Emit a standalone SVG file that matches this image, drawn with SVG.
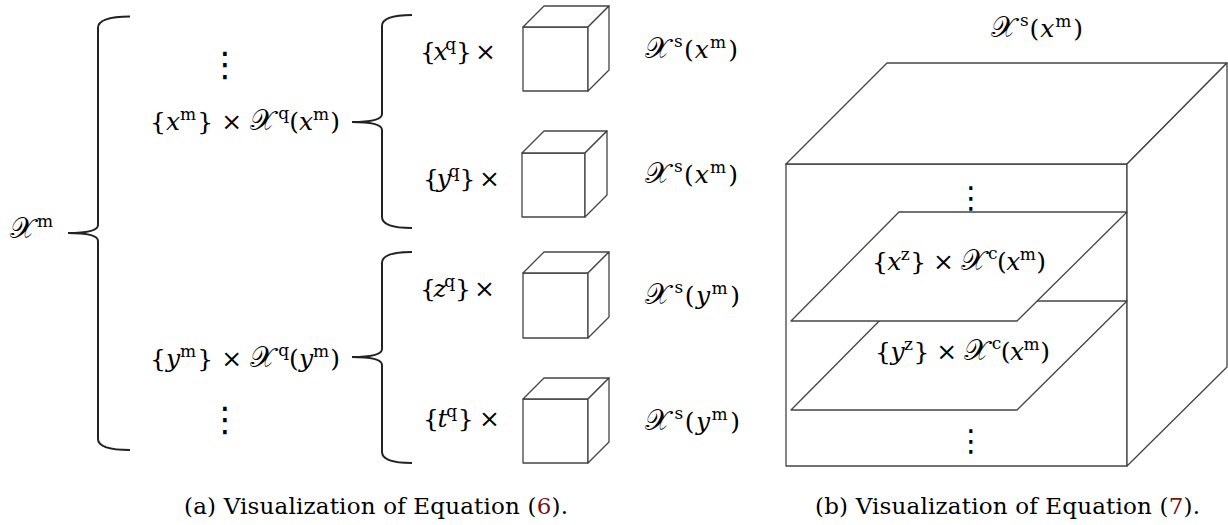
<svg xmlns="http://www.w3.org/2000/svg" width="1228" height="525" viewBox="0 0 1228 525">
<style>
.m{font-family:"DejaVu Serif","Liberation Serif",serif;font-size:25px;fill:#000}
.i{font-style:italic}
.s{font-size:17px;font-style:normal}
.cal{font-family:"DejaVu Serif","DejaVu Sans","Noto Sans",serif;font-style:normal;font-size:29px}
.dots{font-family:"DejaVu Sans",sans-serif;font-size:34px;fill:#000;text-anchor:middle}
.cap{font-family:"DejaVu Serif","Liberation Serif",serif;font-size:23px;fill:#000}
.ref{fill:#7a1414}
.brace{fill:none;stroke:#222;stroke-width:2}
.edge{fill:#fff;stroke:#444;stroke-width:1.3;stroke-linejoin:round}
</style>
<rect width="1228" height="525" fill="#fff"/>
<g id="connectors">
<path class="brace" d="M130,16.5 Q98,16.5 98,28 L98,225 Q98,233 68,233 Q98,233 98,241 L98,439 Q98,450 130,450"/>
<path class="brace" d="M412,15 Q382,15 382,26 L382,114 Q382,122 352,122 Q382,122 382,130 L382,217 Q382,228 412,228"/>
<path class="brace" d="M412,252 Q382,252 382,263 L382,349 Q382,357 352,357 Q382,357 382,365 L382,452 Q382,463 412,463"/>
</g>
<g id="root">
<text class="m" x="10" y="238" textLength="43"><tspan class="cal">𝒳</tspan><tspan class="s" dy="-11" dx="4">m</tspan></text>
</g>
<g id="group-xm">
<text class="dots" x="225" y="76">⋮</text>
<text class="m" x="150" y="130" textLength="190">{<tspan class="i">x</tspan><tspan class="s" dy="-10">m</tspan><tspan dy="10" dx="1">} × </tspan><tspan class="cal">𝒳</tspan><tspan class="s" dy="-11" dx="3">q</tspan><tspan dy="11">(</tspan><tspan class="i">x</tspan><tspan class="s" dy="-10">m</tspan><tspan dy="10" dx="1">)</tspan></text>
</g>
<g id="group-ym">
<text class="m" x="150" y="367" textLength="190">{<tspan class="i">y</tspan><tspan class="s" dy="-10">m</tspan><tspan dy="10" dx="1">} × </tspan><tspan class="cal">𝒳</tspan><tspan class="s" dy="-11" dx="3">q</tspan><tspan dy="11">(</tspan><tspan class="i">y</tspan><tspan class="s" dy="-10">m</tspan><tspan dy="10" dx="1">)</tspan></text>
<text class="dots" x="225" y="431">⋮</text>
</g>
<g id="cube-xq">
<text class="m" x="420" y="60" textLength="76">{<tspan class="i">x</tspan><tspan class="s" dy="-10">q</tspan><tspan dy="10" dx="2">} ×</tspan></text>
<rect class="edge" x="523" y="27" width="65" height="64"/>
<path class="edge" d="M523,27 L544,6 L609,6 L588,27 Z"/>
<path class="edge" d="M588,27 L609,6 L609,70 L588,91 Z"/>
<text class="m" x="645" y="58" textLength="93"><tspan class="cal">𝒳</tspan><tspan class="s" dy="-11" dx="3">s</tspan><tspan dy="11">(</tspan><tspan class="i">x</tspan><tspan class="s" dy="-10">m</tspan><tspan dy="10" dx="1">)</tspan></text>
</g>
<g id="cube-yq">
<text class="m" x="423" y="187" textLength="77">{<tspan class="i">y</tspan><tspan class="s" dy="-10">q</tspan><tspan dy="10" dx="2">} ×</tspan></text>
<rect class="edge" x="522" y="153" width="63" height="64"/>
<path class="edge" d="M522,153 L544,131 L607,131 L585,153 Z"/>
<path class="edge" d="M585,153 L607,131 L607,195 L585,217 Z"/>
<text class="m" x="645" y="183" textLength="93"><tspan class="cal">𝒳</tspan><tspan class="s" dy="-11" dx="3">s</tspan><tspan dy="11">(</tspan><tspan class="i">x</tspan><tspan class="s" dy="-10">m</tspan><tspan dy="10" dx="1">)</tspan></text>
</g>
<g id="cube-zq">
<text class="m" x="420" y="297" textLength="75">{<tspan class="i">z</tspan><tspan class="s" dy="-10">q</tspan><tspan dy="10" dx="2">} ×</tspan></text>
<rect class="edge" x="523" y="273" width="65" height="65"/>
<path class="edge" d="M523,273 L544,252 L609,252 L588,273 Z"/>
<path class="edge" d="M588,273 L609,252 L609,317 L588,338 Z"/>
<text class="m" x="645" y="304" textLength="95"><tspan class="cal">𝒳</tspan><tspan class="s" dy="-11" dx="3">s</tspan><tspan dy="11">(</tspan><tspan class="i">y</tspan><tspan class="s" dy="-10">m</tspan><tspan dy="10" dx="1">)</tspan></text>
</g>
<g id="cube-tq">
<text class="m" x="423" y="427" textLength="77">{<tspan class="i">t</tspan><tspan class="s" dy="-10">q</tspan><tspan dy="10" dx="2">} ×</tspan></text>
<rect class="edge" x="523" y="399" width="65" height="64"/>
<path class="edge" d="M523,399 L544,378 L609,378 L588,399 Z"/>
<path class="edge" d="M588,399 L609,378 L609,442 L588,463 Z"/>
<text class="m" x="645" y="430" textLength="95"><tspan class="cal">𝒳</tspan><tspan class="s" dy="-11" dx="3">s</tspan><tspan dy="11">(</tspan><tspan class="i">y</tspan><tspan class="s" dy="-10">m</tspan><tspan dy="10" dx="1">)</tspan></text>
</g>
<g id="big-cube">
<text class="m" x="991" y="37" textLength="92"><tspan class="cal">𝒳</tspan><tspan class="s" dy="-11" dx="3">s</tspan><tspan dy="11">(</tspan><tspan class="i">x</tspan><tspan class="s" dy="-10">m</tspan><tspan dy="10" dx="1">)</tspan></text>
<rect class="edge" x="786" y="164" width="341" height="302"/>
<path class="edge" d="M786,164 L887,63 L1227,63 L1127,164 Z"/>
<path class="edge" d="M1127,164 L1227,63 L1227,367 L1127,466 Z"/>
<text class="dots" x="971" y="208" style="font-size:30px">⋮</text>
<text class="dots" x="971" y="451" style="font-size:30px">⋮</text>
</g>
<g id="plane-yz">
<path class="edge" d="M899,301 L1127,301 L1017,410 L791,410 Z"/>
<text class="m" x="875" y="360" textLength="175">{<tspan class="i">y</tspan><tspan class="s" dy="-10">z</tspan><tspan dy="10" dx="1">} × </tspan><tspan class="cal">𝒳</tspan><tspan class="s" dy="-11" dx="3">c</tspan><tspan dy="11">(</tspan><tspan class="i">x</tspan><tspan class="s" dy="-10">m</tspan><tspan dy="10" dx="1">)</tspan></text>
</g>
<g id="plane-xz">
<path class="edge" d="M899,212 L1127,212 L1017,321 L791,321 Z"/>
<text class="m" x="872" y="270" textLength="174">{<tspan class="i">x</tspan><tspan class="s" dy="-10">z</tspan><tspan dy="10" dx="1">} × </tspan><tspan class="cal">𝒳</tspan><tspan class="s" dy="-11" dx="3">c</tspan><tspan dy="11">(</tspan><tspan class="i">x</tspan><tspan class="s" dy="-10">m</tspan><tspan dy="10" dx="1">)</tspan></text>
</g>
<g id="captions">
<text class="cap" x="184" y="514" textLength="384">(a) Visualization of Equation (<tspan class="ref">6</tspan>).</text>
<text class="cap" x="815" y="514" textLength="385">(b) Visualization of Equation (<tspan class="ref">7</tspan>).</text>
</g>
</svg>
